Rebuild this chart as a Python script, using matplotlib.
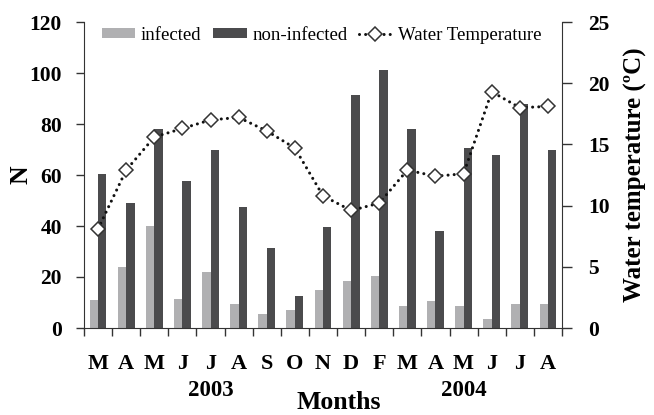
import numpy as np
import matplotlib
matplotlib.use("Agg")
import matplotlib.pyplot as plt
from matplotlib.transforms import blended_transform_factory

# data
months = ["M", "A", "M", "J", "J", "A", "S", "O", "N", "D", "F",
          "M", "A", "M", "J", "J", "A"]
infected = [11, 24, 40, 11.5, 22, 9.5, 5.5, 7, 15, 18.5, 20.5,
            8.5, 10.5, 8.5, 3.5, 9.5, 9.5]
non_infected = [60.5, 49, 78, 57.5, 70, 47.5, 31.5, 12.5, 39.5, 91.5, 101,
                78, 38, 70.5, 68, 88, 70]
water_temp = [8.1, 12.9, 15.6, 16.3, 17.0, 17.2, 16.1, 14.7, 10.8, 9.6, 10.2,
              12.9, 12.4, 12.6, 19.3, 18.0, 18.1]
years = ["2003", "2004"]
year_pos = [4, 13]

plt.rcParams['font.family'] = 'Liberation Serif'
plt.rcParams['font.weight'] = 'bold'

fig = plt.figure(figsize=(6.54, 4.15), dpi=100)
ax = fig.add_axes([84 / 654, 1 - 328 / 415, 478 / 654, 306 / 415])
x = np.arange(len(months))
w = 0.3

b1 = ax.bar(x - w / 2, infected, w, color="#b0b0b2", label="infected", zorder=2)
b2 = ax.bar(x + w / 2, non_infected, w, color="#4b4b4d", label="non-infected", zorder=2)

ax.set_xlim(-0.5, len(months) - 0.5)
ax.set_ylim(0, 120)
ax.set_yticks(np.arange(0, 121, 20))
ax.set_xticks(np.arange(-0.5, len(months), 1))
ax.set_xticklabels([])
ax.set_xticks(x, minor=True)
ax.set_xticklabels(months, minor=True, fontsize=16, fontweight='bold')
ax.tick_params(axis='x', which='major', length=6, width=1, color='#333333')
ax.tick_params(axis='x', which='minor', length=0, pad=19)
ax.tick_params(axis='y', length=6, width=1, pad=10, labelsize=15.5, color='#333333')
for lab in ax.get_yticklabels():
    lab.set_fontweight('bold')
ax.spines['top'].set_visible(False)
ax.spines['right'].set_visible(False)
for s in ['left', 'bottom']:
    ax.spines[s].set_color('#333333')
ax.set_ylabel("N", fontsize=18.5, fontweight='bold')
ax.yaxis.set_label_coords(-0.108, 0.5)

ax2 = ax.twinx()
line, = ax2.plot(x, water_temp, color='#111111', linewidth=2.2,
                 linestyle=(0, (0.01, 2.0)), dash_capstyle='round',
                 marker='D', markersize=7.5, markerfacecolor='white',
                 markeredgecolor='#333333', markeredgewidth=1.1,
                 label="Water Temperature", zorder=3)
ax2.set_ylim(0, 25)
ax2.set_yticks(np.arange(0, 26, 5))
ax2.tick_params(axis='y', length=7, width=1, pad=12, labelsize=15.5, color='#333333')
for lab in ax2.get_yticklabels():
    lab.set_fontweight('bold')
ax2.spines['top'].set_visible(False)
ax2.spines['left'].set_visible(False)
ax2.spines['bottom'].set_visible(False)
ax2.spines['right'].set_color('#333333')
ax2.set_ylabel("Water temperature (ºC)", fontsize=18, fontweight='bold', labelpad=10)

# year labels under the month letters
trans = blended_transform_factory(ax.transData, ax.transAxes)
for yr, p in zip(years, year_pos):
    ax.text(p, -0.203, yr, transform=trans, ha='center', va='center',
            fontsize=16.5, fontweight='bold')
ax.text(0.532, -0.265, "Months", transform=ax.transAxes, ha='center', va='baseline',
        fontsize=18.5, fontweight='bold')

leg = ax2.legend([b1, b2, line], ["infected", "non-infected", "Water Temperature"],
                 loc='center', bbox_to_anchor=(0.497, 0.957), ncol=3, frameon=False,
                 prop={'family': 'Liberation Serif', 'weight': 'normal', 'size': 13.5},
                 handlelength=1.8, handleheight=0.5, handletextpad=0.3,
                 columnspacing=0.6, borderaxespad=0)

fig.savefig("out.png", dpi=100)
